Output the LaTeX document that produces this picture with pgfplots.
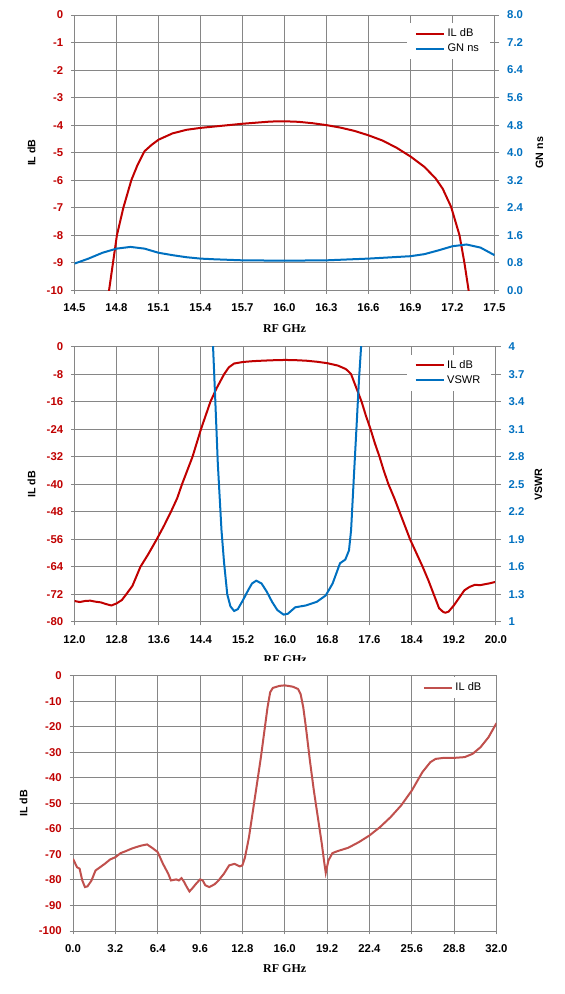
\documentclass[border=0pt]{standalone}
\usepackage{pgfplots}
\pgfplotsset{compat=1.18}
\usepackage{fontspec}
\setmainfont{Liberation Sans}
\newfontfamily\serifbf{Liberation Serif}
\definecolor{ilred}{HTML}{C00000}
\definecolor{gnblue}{HTML}{0070C0}
\definecolor{il3}{HTML}{C0504D}
\definecolor{gridgray}{HTML}{868686}
\pgfplotsset{
  base/.style={
    scale only axis,
    xlabel={RF GHz},
    every axis x label/.style={at={(axis description cs:0.5,0)},yshift=-28.5pt,anchor=center,font=\serifbf\bfseries\fontsize{9}{10}\selectfont},
    tick label style={font=\bfseries\fontsize{8.5}{10}\selectfont},
    tick align=outside, major tick length=2.5pt,
    every tick/.style={gridgray, line width=0.75pt},
    xticklabel style={yshift=-4pt},
    yticklabel style={xshift=-2.5pt},
    axis line style={gridgray, line width=0.75pt},
    grid=major, major grid style={gridgray, line width=0.75pt},
    legend cell align=left,
    legend image code/.code={\draw[#1] (0pt,0pt) -- (21pt,0pt);},
    legend style={draw=none, fill=white, font=\fontsize{8.3}{10}\selectfont, inner xsep=6pt, inner ysep=2pt},
  },
  leftax/.style={
    base, xtick pos=left, ytick pos=left,
    yticklabel style={text=ilred},
  },
  rightax/.style={
    scale only axis, axis x line=none, axis y line*=right,
    tick label style={font=\bfseries\fontsize{8.5}{10}\selectfont},
    tick align=outside, major tick length=3.5pt,
    every tick/.style={gridgray, line width=0.75pt},
    yticklabel style={text=gnblue, xshift=2.5pt},
    axis line style={gridgray, line width=0.75pt},
    legend cell align=left,
    legend image code/.code={\draw[#1] (0pt,0pt) -- (21pt,0pt);},
    legend style={draw=none, fill=white, font=\fontsize{8.3}{10}\selectfont, inner xsep=6pt, inner ysep=2pt},
  },
}
\begin{document}
\begin{tikzpicture}
\path[use as bounding box] (0,0) rectangle (423pt,745.5pt);
% ---------------- Plot 1 ----------------
\begin{axis}[leftax,
  at={(55.875pt,527.8pt)}, anchor=south west, width=315pt, height=206.4pt,
  xmin=14.5, xmax=17.5, ymin=-10, ymax=0,
  xtick={14.5,14.8,15.1,15.4,15.7,16.0,16.3,16.6,16.9,17.2,17.5},
  xticklabels={14.5,14.8,15.1,15.4,15.7,16.0,16.3,16.6,16.9,17.2,17.5},
  ytick={-10,-9,-8,-7,-6,-5,-4,-3,-2,-1,0},
  yticklabels={-10,-9,-8,-7,-6,-5,-4,-3,-2,-1,0},
  ylabel={IL dB},
  every axis y label/.style={at={(axis description cs:-0.102,0.5)},rotate=90,anchor=center,font=\bfseries\fontsize{8}{10}\selectfont},
]
\addplot[ilred, line width=1.5pt] coordinates {
(14.72,-11)(14.747,-10)(14.775,-9)(14.803,-8)(14.849,-7)(14.906,-6)(14.95,-5.45)(15.0,-4.95)(15.05,-4.72)
(15.1,-4.53)(15.2,-4.3)(15.3,-4.17)(15.4,-4.1)(15.5,-4.05)(15.6,-4.0)(15.7,-3.95)(15.8,-3.91)
(15.9,-3.87)(16.0,-3.86)(16.1,-3.88)(16.2,-3.93)(16.3,-4.0)(16.4,-4.09)(16.5,-4.21)(16.6,-4.37)
(16.7,-4.56)(16.8,-4.82)(16.9,-5.14)(17.0,-5.52)(17.08,-5.94)(17.13,-6.31)(17.19,-6.97)
(17.25,-8)(17.285,-9)(17.315,-10)(17.33,-10.6)};
\end{axis}
\begin{axis}[rightax,
  at={(55.875pt,527.8pt)}, anchor=south west, width=315pt, height=206.4pt,
  xmin=14.5, xmax=17.5, ymin=0, ymax=8,
  ytick={0,0.8,1.6,2.4,3.2,4.0,4.8,5.6,6.4,7.2,8.0},
  yticklabels={0.0,0.8,1.6,2.4,3.2,4.0,4.8,5.6,6.4,7.2,8.0},
  ylabel={GN ns},
  every axis y label/.style={at={(axis description cs:1.107,0.5)},rotate=90,anchor=center,font=\bfseries\fontsize{8}{10}\selectfont},
  legend style={at={(axis description cs:0.989,0.971)}, anchor=north east},
]
\addlegendimage{ilred, line width=1.5pt}
\addlegendentry{IL dB}
\addplot[gnblue, line width=1.5pt] coordinates {
(14.5,0.775)(14.6,0.92)(14.7,1.09)(14.8,1.21)(14.9,1.26)(15.0,1.21)(15.1,1.09)(15.2,1.02)
(15.3,0.96)(15.4,0.92)(15.5,0.90)(15.7,0.87)(16.0,0.86)(16.3,0.87)(16.6,0.92)(16.9,0.99)
(17.0,1.05)(17.1,1.16)(17.2,1.28)(17.3,1.33)(17.4,1.24)(17.5,1.02)};
\addlegendentry{GN ns}
\end{axis}
% ---------------- Plot 2 ----------------
\begin{axis}[leftax,
  at={(55.875pt,279pt)}, anchor=south west, width=316.1pt, height=206.5pt,
  xmin=12, xmax=20, ymin=-80, ymax=0,
  xtick={12,12.8,13.6,14.4,15.2,16,16.8,17.6,18.4,19.2,20},
  xticklabels={12.0,12.8,13.6,14.4,15.2,16.0,16.8,17.6,18.4,19.2,20.0},
  ytick={-80,-72,-64,-56,-48,-40,-32,-24,-16,-8,0},
  yticklabels={-80,-72,-64,-56,-48,-40,-32,-24,-16,-8,0},
  ylabel={IL dB},
  every axis y label/.style={at={(axis description cs:-0.102,0.5)},rotate=90,anchor=center,font=\bfseries\fontsize{8}{10}\selectfont},
]
\addplot[ilred, line width=1.5pt] coordinates {
(12.0,-73.9)(12.1,-74.2)(12.2,-73.9)(12.3,-73.8)(12.4,-74.1)(12.5,-74.3)(12.6,-74.8)(12.7,-75.2)
(12.8,-74.6)(12.9,-73.6)(12.98,-72)(13.1,-69.5)(13.25,-64)(13.4,-60.3)(13.56,-56)(13.7,-52)
(13.83,-48)(13.95,-44)(14.04,-40)(14.14,-36)(14.24,-32)(14.32,-28)(14.40,-24)(14.49,-20)(14.58,-16)
(14.70,-12)(14.84,-8)(14.93,-6)(15.03,-4.9)(15.2,-4.45)(15.4,-4.2)(15.6,-4.05)(15.8,-3.93)(16.0,-3.86)
(16.2,-3.93)(16.4,-4.08)(16.6,-4.38)(16.8,-4.8)(17.0,-5.5)(17.15,-6.5)(17.2,-7.2)(17.25,-8)
(17.35,-12)(17.45,-16)(17.53,-20)(17.62,-24)(17.70,-28)(17.79,-32)(17.87,-36)(17.96,-40)
(18.07,-44)(18.17,-48)(18.27,-52)(18.37,-56)(18.49,-60)(18.61,-64)(18.72,-68)(18.82,-72)
(18.92,-76)(19.0,-77.1)(19.04,-77.3)(19.1,-77)(19.2,-75.2)(19.3,-73)(19.4,-70.8)(19.5,-69.8)
(19.6,-69.2)(19.7,-69.3)(19.8,-69)(19.9,-68.7)(20.0,-68.3)};
\end{axis}
\begin{axis}[rightax,
  at={(55.875pt,279pt)}, anchor=south west, width=316.1pt, height=206.5pt,
  xmin=12, xmax=20, ymin=1, ymax=4,
  ytick={1,1.3,1.6,1.9,2.2,2.5,2.8,3.1,3.4,3.7,4},
  yticklabels={1,1.3,1.6,1.9,2.2,2.5,2.8,3.1,3.4,3.7,4},
  ylabel={VSWR},
  every axis y label/.style={at={(axis description cs:1.101,0.5)},rotate=90,anchor=center,font=\bfseries\fontsize{8}{10}\selectfont},
  legend style={at={(axis description cs:0.989,0.971)}, anchor=north east},
]
\addlegendimage{ilred, line width=1.5pt}
\addlegendentry{IL dB}
\addplot[gnblue, line width=1.5pt] coordinates {
(14.60,5.0)(14.63,4.0)(14.67,3.45)(14.72,2.73)(14.79,2.0)(14.84,1.64)(14.90,1.30)(14.96,1.17)
(15.03,1.12)(15.1,1.14)(15.2,1.24)(15.3,1.35)(15.37,1.42)(15.45,1.45)(15.55,1.42)(15.65,1.33)
(15.75,1.22)(15.85,1.13)(15.97,1.08)(16.05,1.09)(16.19,1.16)(16.39,1.18)(16.6,1.22)(16.77,1.29)
(16.9,1.42)(17.04,1.64)(17.14,1.68)(17.21,1.78)(17.25,2.0)(17.3,2.55)(17.35,3.09)(17.4,3.64)
(17.44,4.0)(17.47,4.6)};
\addlegendentry{VSWR}
\end{axis}
\fill[white] (0,243pt) rectangle (423pt,250.1pt);
% ---------------- Plot 3 ----------------
\begin{axis}[leftax,
  at={(54.75pt,47.25pt)}, anchor=south west, width=317.6pt, height=191.5pt,
  xmin=0, xmax=32, ymin=-100, ymax=0,
  xtick={0,3.2,6.4,9.6,12.8,16,19.2,22.4,25.6,28.8,32},
  xticklabels={0.0,3.2,6.4,9.6,12.8,16.0,19.2,22.4,25.6,28.8,32.0},
  ytick={-100,-90,-80,-70,-60,-50,-40,-30,-20,-10,0},
  yticklabels={-100,-90,-80,-70,-60,-50,-40,-30,-20,-10,0},
  ylabel={IL dB},
  every axis y label/.style={at={(axis description cs:-0.117,0.5)},rotate=90,anchor=center,font=\bfseries\fontsize{8}{10}\selectfont},
  legend style={at={(axis description cs:0.99,0.995)}, anchor=north east},
]
\addplot[il3, line width=1.5pt] coordinates {
(0.0,-71.7)(0.3,-75.0)(0.5,-75.6)(0.7,-80.2)(0.9,-82.8)(1.1,-82.5)(1.4,-80.2)(1.7,-76.3)
(2.0,-75.2)(2.4,-73.7)(2.8,-72.0)(3.2,-71.1)(3.6,-69.5)(4.0,-68.7)(4.4,-67.8)(4.8,-67.1)
(5.2,-66.5)(5.6,-66.1)(6.0,-67.5)(6.4,-69.1)(6.8,-73.7)(7.2,-77.6)(7.4,-80.2)(7.8,-79.8)
(8.0,-80.2)(8.2,-79.3)(8.4,-80.8)(8.6,-82.8)(8.8,-84.5)(9.0,-83.4)(9.3,-81.5)(9.6,-79.8)
(9.8,-80.2)(10.0,-82.1)(10.3,-82.8)(10.7,-81.7)(11.0,-80.2)(11.4,-77.6)(11.8,-74.3)(12.2,-73.7)
(12.6,-74.7)(12.8,-74.3)(13.0,-71.1)(13.3,-63.2)(13.6,-52.8)(13.9,-42.4)(14.2,-31.9)(14.5,-20.2)
(14.7,-12.4)(14.9,-6.5)(15.1,-4.8)(15.6,-4.0)(16.0,-3.8)(16.6,-4.3)(17.0,-5.2)(17.2,-7.2)
(17.4,-12.4)(17.6,-20.2)(17.9,-33.2)(18.2,-45.0)(18.5,-55.4)(18.8,-65.8)(19.0,-73.7)(19.1,-77.2)
(19.3,-72.4)(19.6,-69.5)(20.0,-68.7)(20.8,-67.4)(21.6,-65.2)(22.4,-62.6)(23.2,-59.3)(24.0,-55.4)
(24.8,-50.8)(25.6,-45.0)(26.4,-37.8)(27.0,-33.9)(27.4,-32.6)(28.0,-32.2)(28.8,-32.2)(29.6,-31.9)
(30.2,-30.6)(30.8,-28.0)(31.4,-24.1)(32.0,-18.6)};
\addlegendentry{IL dB}
\end{axis}
\end{tikzpicture}
\end{document}
